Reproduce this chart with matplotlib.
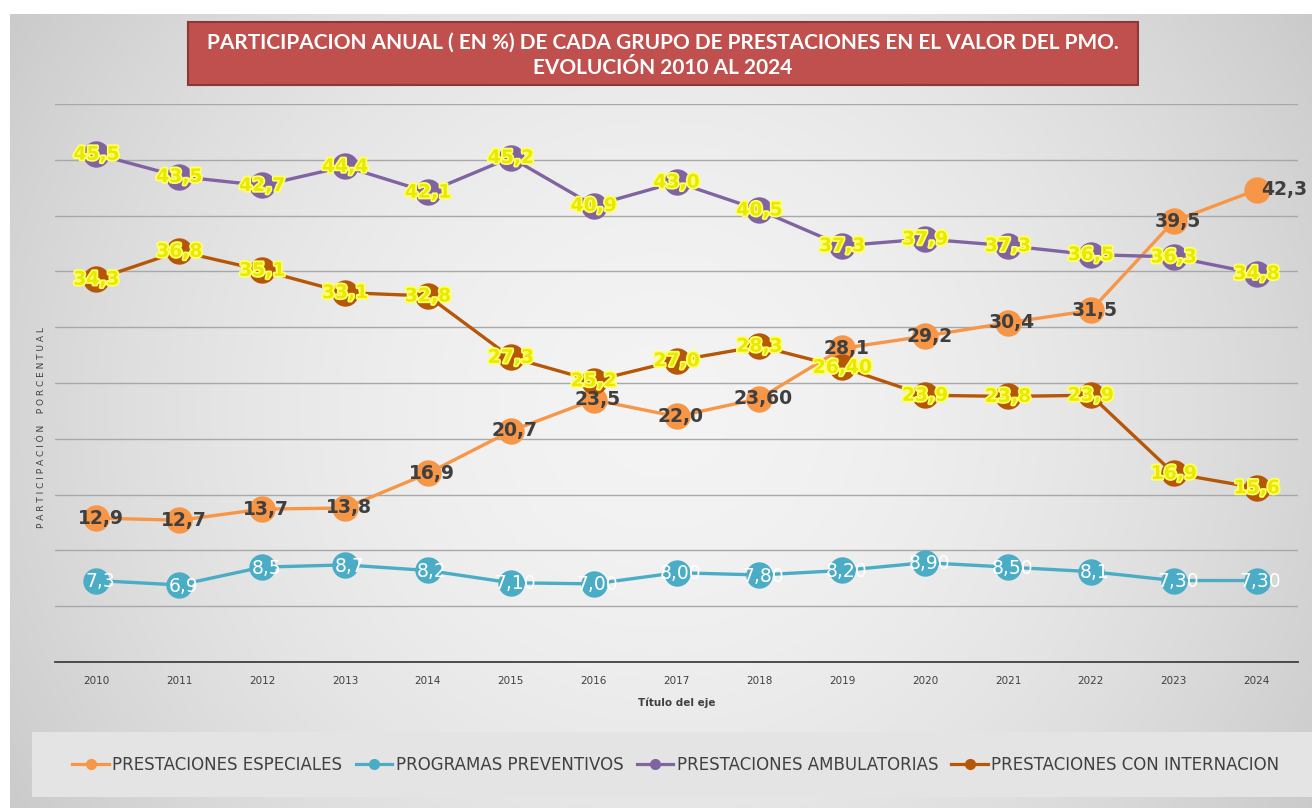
import numpy as np
import matplotlib.pyplot as plt
import matplotlib.patheffects as pe
from matplotlib.patches import Rectangle
from matplotlib.lines import Line2D

years = [str(y) for y in range(2010, 2025)]

especiales = [12.9, 12.7, 13.7, 13.8, 16.9, 20.7, 23.5, 22.0, 23.6, 28.1, 29.2, 30.4, 31.5, 39.5, 42.3]
especiales_lbl = ["12,9", "12,7", "13,7", "13,8", "16,9", "20,7", "23,5", "22,0", "23,60", "28,1",
                  "29,2", "30,4", "31,5", "39,5", "42,3"]

preventivos = [7.3, 6.9, 8.5, 8.7, 8.2, 7.1, 7.0, 8.0, 7.8, 8.2, 8.9, 8.5, 8.1, 7.3, 7.3]
preventivos_lbl = ["7,3", "6,9", "8,5", "8,7", "8,2", "7,10", "7,00", "8,00", "7,80", "8,20",
                   "8,90", "8,50", "8,1", "7,30", "7,30"]

ambulatorias = [45.5, 43.5, 42.7, 44.4, 42.1, 45.2, 40.9, 43.0, 40.5, 37.3, 37.9, 37.3, 36.5, 36.3, 34.8]
ambulatorias_lbl = ["45,5", "43,5", "42,7", "44,4", "42,1", "45,2", "40,9", "43,0", "40,5", "37,3",
                    "37,9", "37,3", "36,5", "36,3", "34,8"]

internacion = [34.3, 36.8, 35.1, 33.1, 32.8, 27.3, 25.2, 27.0, 28.3, 26.4, 23.9, 23.8, 23.9, 16.9, 15.6]
internacion_lbl = ["34,3", "36,8", "35,1", "33,1", "32,8", "27,3", "25,2", "27,0", "28,3", "26,40",
                   "23,9", "23,8", "23,9", "16,9", "15,6"]

series_names = ["PRESTACIONES ESPECIALES", "PROGRAMAS PREVENTIVOS",
                "PRESTACIONES AMBULATORIAS", "PRESTACIONES CON INTERNACION"]
colors = ["#F79646", "#4BACC6", "#8064A2", "#B65708"]

W, H = 1312, 808
fig = plt.figure(figsize=(W / 100, H / 100), dpi=100)
fig.patch.set_facecolor("white")

# gray gradient background
bg = fig.add_axes([10 / W, 0, 1 - 10 / W, 1 - 14 / H])
gx = np.linspace(-1, 1, 400)
gy = np.linspace(-1, 1, 300)
X, Y = np.meshgrid(gx, gy)
r = np.sqrt((X * 0.95) ** 2 + (Y * 0.6) ** 2)
val = 0.955 - 0.13 * np.clip(r, 0, 1.3) ** 1.8
bg.imshow(np.dstack([val, val, val]), aspect="auto", extent=[0, 1, 0, 1], origin="lower")
bg.set_axis_off()

# legend box
fig.patches.append(Rectangle((32 / W, 1 - 797 / H), 1 - 32 / W, 65 / H, transform=fig.transFigure,
                             facecolor="#E4E4E4", edgecolor="none", zorder=1))

ax = fig.add_axes([55 / W, 1 - 662 / H, 1243 / W, 558 / H])
ax.set_facecolor("none")
x = np.arange(len(years))

all_vals = [especiales, preventivos, ambulatorias, internacion]
for vals, c in zip(all_vals, colors):
    ax.plot(x, vals, color=c, lw=2.4, marker="o", markersize=19, markeredgewidth=0, zorder=3)

for i, (v, t) in enumerate(zip(especiales, especiales_lbl)):
    dx = 0.33 if i == len(especiales) - 1 else 0.05
    ax.text(x[i] + dx, v, t, ha="center", va="center", fontsize=13.5, fontweight="bold",
            color="#3F3F3F", zorder=6)
for i, (v, t) in enumerate(zip(preventivos, preventivos_lbl)):
    ax.text(x[i] + 0.05, v - 0.1, t, ha="center", va="center", fontsize=13.5,
            color="white", zorder=6)
glow = [pe.withStroke(linewidth=2.5, foreground="#FFFF66")]
for vals, lbls in [(ambulatorias, ambulatorias_lbl), (internacion, internacion_lbl)]:
    for i, (v, t) in enumerate(zip(vals, lbls)):
        ax.text(x[i], v, t, ha="center", va="center", fontsize=13.5, fontweight="bold",
                color="#E8E800", zorder=6, path_effects=glow)

ax.set_xlim(-0.5, len(years) - 0.5)
ax.set_ylim(0, 50)
ax.set_yticks(np.arange(0, 51, 5))
ax.set_yticklabels([])
ax.tick_params(axis="y", length=0)
ax.grid(axis="y", color="#A8A8A8", lw=1)
ax.set_axisbelow(True)
for s in ["top", "right", "left"]:
    ax.spines[s].set_visible(False)
ax.spines["bottom"].set_color("#404040")
ax.spines["bottom"].set_linewidth(1.3)
ax.set_xticks(x)
ax.set_xticklabels(years, fontsize=7.5, color="#404040")
ax.tick_params(axis="x", length=0, pad=10)
ax.set_xlabel("Título del eje", fontsize=7.5, fontweight="bold", color="#404040", labelpad=8)
ax.set_ylabel("P A R T I C I P A C I Ó N    P O R C E N T U A L", fontsize=6.5, color="#404040",
              labelpad=2)
ax.yaxis.set_label_coords(-0.007, 0.42)

# title box
fig.text(663 / W, 1 - 55 / H, "PARTICIPACION ANUAL ( EN %) DE CADA GRUPO DE PRESTACIONES EN EL VALOR DEL PMO.\nEVOLUCIÓN 2010 AL 2024",
         ha="center", va="center", fontsize=15, fontweight="bold", color="white",
         family="Lato", linespacing=1.35, zorder=5)
fig.patches.append(Rectangle((188 / W, 1 - 85 / H), 950 / W, 63 / H, transform=fig.transFigure,
                             facecolor="#C0504D", edgecolor="#8C3836", lw=1.5, zorder=2))

handles = [Line2D([0], [0], color=c, lw=2.3, marker="o", markersize=7) for c in colors]
fig.legend(handles, series_names, loc="center", bbox_to_anchor=(676 / W, 1 - 765 / H), ncol=4,
           frameon=False, fontsize=12, labelcolor="#404040", handlelength=2.2, handletextpad=0.2,
           columnspacing=0.8)

fig.savefig("out.png", dpi=100)
